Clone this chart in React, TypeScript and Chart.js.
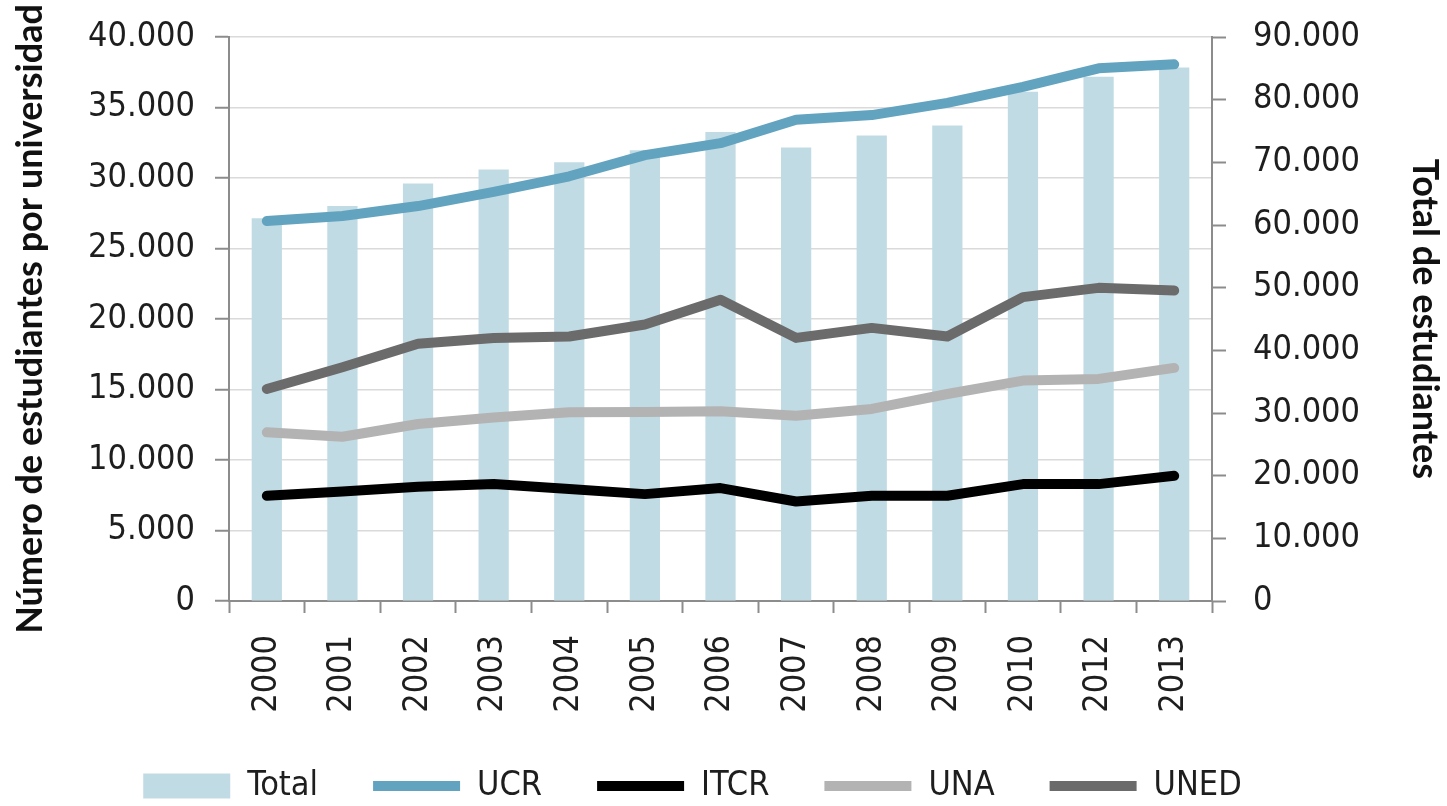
import React, { useEffect, useRef } from 'react';
import { Chart, registerables } from 'chart.js';

Chart.register(...registerables);

const years = ['2000', '2001', '2002', '2003', '2004', '2005', '2006', '2007', '2008', '2009', '2010', '2012', '2013'];
const totalValues = [61070, 63030, 66610, 68850, 70020, 71940, 74860, 72370, 74290, 75880, 81260, 83650, 85150];
const ucrValues = [26950, 27300, 28010, 29010, 30120, 31620, 32470, 34130, 34460, 35330, 36470, 37780, 38060];
const itcrValues = [7460, 7770, 8100, 8290, 7940, 7580, 8010, 7060, 7460, 7460, 8290, 8290, 8880];
const unaValues = [11960, 11650, 12550, 13020, 13380, 13400, 13450, 13140, 13620, 14680, 15630, 15750, 16530];
const unedValues = [15040, 16580, 18240, 18660, 18760, 19610, 21370, 18660, 19370, 18760, 21550, 22210, 22020];

const leftAxisMax = 40000;
const leftAxisStep = 5000;
const rightAxisMax = 90000;
const rightAxisStep = 10000;

const fmt = (v: number | string) => String(v).replace(/\B(?=(\d{3})+(?!\d))/g, '.');

const TICK_FONT = { family: "'Liberation Sans Narrow', 'Arial Narrow', 'DejaVu Sans Condensed', sans-serif", size: 34 };
const TITLE_FONT = { family: "Lato, 'Open Sans', sans-serif", size: 36, weight: 'bold' as const };
const TEXT_COLOR = '#1e1e1e';
const AXIS_COLOR = '#8c8c8c';

export default function App() {
  const ref = useRef<HTMLCanvasElement>(null);

  useEffect(() => {
    const legendShift = {
      id: 'legendShift',
      afterLayout(chart: any) {
        const lg = chart.legend;
        if (lg) {
          lg.left -= 31;
          lg.right -= 31;
        }
      },
    };

    const lineCommon = {
      type: 'line' as const,
      yAxisID: 'y',
      borderWidth: 10,
      pointRadius: 0,
      pointHoverRadius: 0,
      pointStyle: 'line' as const,
      borderCapStyle: 'round' as const,
      borderJoinStyle: 'round' as const,
      tension: 0,
      fill: false,
    };

    const chart = new Chart(ref.current as HTMLCanvasElement, {
      type: 'bar',
      data: {
        labels: years,
        datasets: [
          {
            type: 'bar',
            label: 'Total',
            data: totalValues,
            yAxisID: 'y1',
            backgroundColor: '#c1dbe4',
            borderWidth: 0,
            barPercentage: 0.4,
            categoryPercentage: 1,
            pointStyle: 'rect',
            order: 10,
          } as any,
          { ...lineCommon, label: 'UCR', data: ucrValues, borderColor: '#62a3bf', backgroundColor: '#62a3bf', order: 1 },
          { ...lineCommon, label: 'ITCR', data: itcrValues, borderColor: '#000000', backgroundColor: '#000000', order: 2 },
          { ...lineCommon, label: 'UNA', data: unaValues, borderColor: '#b3b3b3', backgroundColor: '#b3b3b3', order: 3 },
          { ...lineCommon, label: 'UNED', data: unedValues, borderColor: '#6b6b6b', backgroundColor: '#6b6b6b', order: 4 },
        ],
      },
      options: {
        animation: false,
        responsive: true,
        maintainAspectRatio: false,
        layout: { padding: { top: 37, left: 0, right: 0, bottom: -7 } },
        plugins: {
          tooltip: { enabled: false },
          legend: {
            position: 'bottom',
            labels: {
              usePointStyle: true,
              pointStyleWidth: 87,
              boxHeight: 25,
              padding: 55,
              font: TICK_FONT,
              color: TEXT_COLOR,
              sort: (a: any, b: any) => a.datasetIndex - b.datasetIndex,
            },
          },
        },
        scales: {
          x: {
            offset: true,
            grid: {
              offset: true,
              drawOnChartArea: false,
              drawTicks: true,
              tickLength: 12,
              tickColor: AXIS_COLOR,
              tickWidth: 2,
            },
            border: { color: AXIS_COLOR, width: 2 },
            ticks: {
              font: TICK_FONT,
              color: TEXT_COLOR,
              minRotation: 90,
              maxRotation: 90,
              autoSkip: false,
              padding: 22,
            },
            afterFit: (s: any) => {
              s.height = 113;
            },
          },
          y: {
            position: 'left',
            min: 0,
            max: leftAxisMax,
            ticks: {
              stepSize: leftAxisStep,
              callback: (v: any) => fmt(v),
              font: TICK_FONT,
              color: TEXT_COLOR,
              padding: 20,
            },
            grid: {
              color: '#dadada',
              lineWidth: 1.5,
              tickColor: AXIS_COLOR,
              tickLength: 14,
              tickWidth: 2,
            },
            border: { color: AXIS_COLOR, width: 2 },
            title: {
              display: true,
              text: 'Número de estudiantes por universidad',
              font: TITLE_FONT,
              color: '#111111',
              padding: { top: 9, bottom: 0 },
            },
            afterFit: (s: any) => {
              s.width = 229;
              s.paddingTop = 0;
              s.paddingBottom = 0;
            },
          },
          y1: {
            position: 'right',
            min: 0,
            max: rightAxisMax,
            ticks: {
              stepSize: rightAxisStep,
              callback: (v: any) => fmt(v),
              font: TICK_FONT,
              color: TEXT_COLOR,
              padding: 27,
            },
            grid: {
              drawOnChartArea: false,
              tickColor: AXIS_COLOR,
              tickLength: 14,
              tickWidth: 2,
            },
            border: { color: AXIS_COLOR, width: 2 },
            title: {
              display: true,
              text: 'Total de estudiantes',
              font: TITLE_FONT,
              color: '#111111',
              padding: { top: 1, bottom: 0 },
            },
            afterFit: (s: any) => {
              s.width = 235;
              s.paddingTop = 0;
              s.paddingBottom = 0;
            },
          },
        },
      } as any,
      plugins: [legendShift],
    });

    return () => chart.destroy();
  }, []);

  return (
    <div style={{ position: 'absolute', left: 0, top: 0, width: 1447, height: 806, background: '#ffffff' }}>
      <canvas ref={ref} />
    </div>
  );
}
